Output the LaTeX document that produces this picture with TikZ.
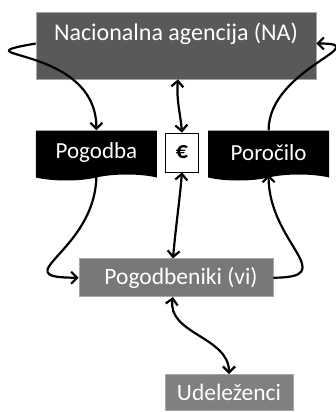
\documentclass[tikz,border=0pt]{standalone}
\usepackage{fontspec}
\setmainfont{Carlito}
\usetikzlibrary{arrows.meta,positioning,shapes.symbols}

\begin{document}
\begin{tikzpicture}[x=1pt, y=1pt, node distance=50pt, auto]
% Define block styles
\tikzstyle{block} = [rectangle, draw=black!35, line width=0.6pt, fill=black!65,
    text=white, font=\fontsize{24}{28}\selectfont, inner sep=0pt]
\tikzstyle{doc} = [tape, tape bend top=none, tape bend bottom=in and out,
    tape bend height=6pt, fill=black, text=white, inner sep=0pt,
    font=\fontsize{23}{27}\selectfont, minimum width=121pt, minimum height=50pt]
\tikzstyle{money} = [rectangle, draw, line width=0.8pt, fill=white,
    minimum width=33pt, minimum height=39pt, font=\bfseries\fontsize{24}{28}\selectfont]
\tikzstyle{line} = [draw, line width=2.2pt, -{Straight Barb[length=6pt,width=12pt]}]
\tikzstyle{both} = [draw, line width=2.2pt, {Straight Barb[length=6pt,width=12pt]}-{Straight Barb[length=6pt,width=12pt]}]

    \useasboundingbox (0,0) rectangle (336,-412);
    % Place nodes
    \node [block, fill=black!65, minimum width=280pt, minimum height=67pt,
        text height=17pt, text depth=27pt] (na) at (176,-45.5) {Nacionalna agencija (NA)};
    \node [doc, below right=51pt and 0pt of na.south west] (pogodba) {Pogodba};
    \node [doc, below left=51pt and -13pt of na.south east] (porocilo) {Poročilo};
    \node [money, right=8pt of pogodba] (euro) {€};
    \node [block, fill=black!53, minimum width=194pt, minimum height=38pt,
        font=\fontsize{23.5}{27}\selectfont,
        below=86pt of euro, xshift=-6pt] (pogodbeniki) {\hspace*{10pt}Pogodbeniki (vi)};
    \node [block, fill=black!50, minimum width=128pt, minimum height=36pt,
        font=\fontsize{23.5}{27}\selectfont,
        below=77pt of pogodbeniki, xshift=53pt] (udelezenci) {Udeleženci};
    % Draw edges
    \path [line] ([yshift=2pt]na.west) to[out=190, in=90, looseness=2.1] (pogodba.north);
    \path [line] (porocilo.north) to[out=90, in=0, looseness=1.6] ([yshift=2pt]na.east);
    \path [both] ([xshift=2pt]na.south) to[out=-95, in=95] (euro.north);
    \path [both] (euro.south) to[out=-95, in=85] ([xshift=-3pt]pogodbeniki.north);
    \path [line] (pogodba.south) to[out=-90, in=180, looseness=1.9] (pogodbeniki.west);
    \path [line] (pogodbeniki.east) to[out=0, in=-90, looseness=1.7] (porocilo.south);
    \path [both] ([xshift=-3pt]pogodbeniki.south) to[out=-100, in=90] (udelezenci.north);
\end{tikzpicture}
\end{document}
